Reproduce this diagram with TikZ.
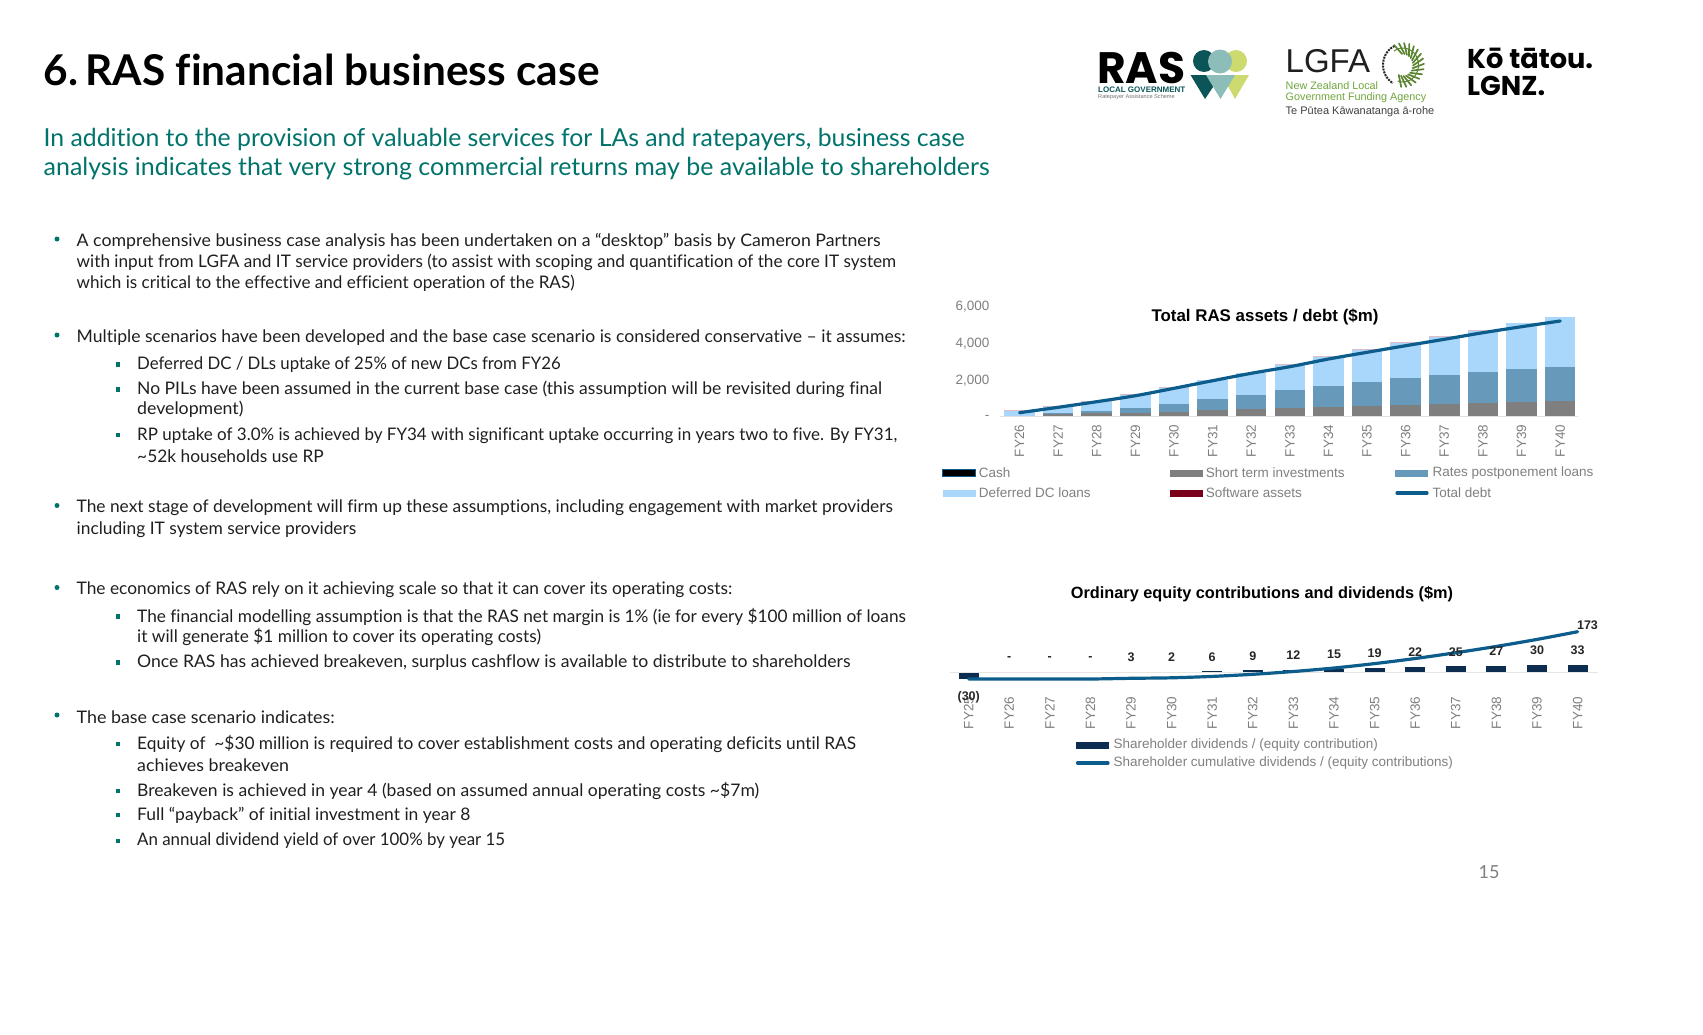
\documentclass[tikz,border=0pt]{standalone}
\usepackage{fontspec}
\usepackage{graphicx}
\setmainfont{Lato}[Ligatures=NoCommon]
\newfontfamily\chartfont{Liberation Sans}
\newfontfamily\logofont{Poppins}
\usepackage{tikz}

\definecolor{tealhead}{HTML}{00736B}
\definecolor{chartgrey}{HTML}{7F7F7F}
\definecolor{dcblue}{HTML}{A9D6FB}
\definecolor{ratesblue}{HTML}{6699BA}
\definecolor{debtblue}{HTML}{0C5C8C}
\definecolor{equitynavy}{HTML}{0C2C50}
\definecolor{softred}{HTML}{7A0019}
\definecolor{rasdark}{HTML}{0B5458}
\definecolor{rasmid}{HTML}{8DBDB8}
\definecolor{raslight}{HTML}{CDDA6F}
\definecolor{lgfagreen}{HTML}{6FA43A}

% one line of text brought to the width it has on the slide
\newcommand{\fitline}[2]{\resizebox{#1pt}{\height}{#2}}

\tikzset{
	bodyline/.style={anchor=west, inner sep=0pt, font=\fontsize{17.3}{19}\selectfont, text=black!88},
	subline/.style={anchor=west, inner sep=0pt, text=tealhead, font=\fontsize{24.8}{28}\selectfont},
	dot/.style={circle, fill=tealhead, inner sep=0pt, minimum size=5pt},
	square/.style={rectangle, fill=tealhead, inner sep=0pt, minimum size=4.5pt},
	axislabel/.style={inner sep=0pt, text=chartgrey, font=\chartfont\fontsize{13.5}{15}\selectfont},
	fylabel/.style={axislabel, rotate=90},
	legendtext/.style={axislabel, anchor=west},
	charttitle/.style={inner sep=0pt, text=black, font=\chartfont\bfseries\fontsize{16.3}{18}\selectfont},
	valuelabel/.style={inner sep=0pt, text=black!85, font=\chartfont\bfseries\fontsize{12.5}{14}\selectfont},
	swatch/.style={minimum width=33pt, minimum height=7pt, inner sep=0pt},
	debtline/.style={draw=debtblue, line width=3.2pt, line cap=round}
}

\begin{document}
\begin{tikzpicture}[x=1pt, y=-1pt]
	\useasboundingbox (0,0) rectangle (1703,1034);

	% headings
	\node[anchor=west, inner sep=0pt, font=\bfseries\fontsize{42.4}{44}\selectfont] (title) at (43.5,69.5){6.\kern-6.5pt{} RAS financial business case};
	\node[subline] (sub1) at (43.5,139.5){\fitline{921}{In addition to the provision of valuable services for LAs and ratepayers, business case}};
	\node[subline] (sub2) at (43.5,169){\fitline{946}{analysis indicates that very strong commercial returns may be available to shareholders}};

	% body text
	\node[bodyline] (l1) at (76.5,241.5){\fitline{804}{A comprehensive business case analysis has been undertaken on a “desktop” basis by Cameron Partners}};
	\node[bodyline] (l2) at (76.5,262){\fitline{819.4}{with input from LGFA and IT service providers (to assist with scoping and quantification of the core IT system}};
	\node[bodyline] (l3) at (76.5,283){\fitline{498}{which is critical to the effective and efficient operation of the RAS)}};
	\node[bodyline] (l4) at (76.5,337.5){\fitline{829}{Multiple scenarios have been developed and the base case scenario is considered conservative – it assumes:}};
	\node[bodyline] (l5) at (137,364.5){\fitline{423.4}{Deferred DC / DLs uptake of 25\% of new DCs from FY26}};
	\node[bodyline] (l6) at (137,389.5){\fitline{744.8}{No PILs have been assumed in the current base case (this assumption will be revisited during final}};
	\node[bodyline] (l7) at (137,409.5){\fitline{106.3}{development)}};
	\node[bodyline] (l8) at (137,435.5){\fitline{760}{RP uptake of 3.0\% is achieved by FY34 with significant uptake occurring in years two to five. By FY31,}};
	\node[bodyline] (l9) at (137,456){\fitline{186.6}{\textasciitilde52k households use RP}};
	\node[bodyline] (l10) at (76.5,508){\fitline{816.2}{The next stage of development will firm up these assumptions, including engagement with market providers}};
	\node[bodyline] (l11) at (76.5,529.5){\fitline{279.7}{including IT system service providers}};
	\node[bodyline] (l12) at (76.5,589.5){\fitline{655.5}{The economics of RAS rely on it achieving scale so that it can cover its operating costs:}};
	\node[bodyline] (l13) at (137,616.5){\fitline{768.7}{The financial modelling assumption is that the RAS net margin is 1\% (ie for every \$100 million of loans}};
	\node[bodyline] (l14) at (137,636.5){\fitline{403.8}{it will generate \$1 million to cover its operating costs)}};
	\node[bodyline] (l15) at (137,662.5){\fitline{713.3}{Once RAS has achieved breakeven, surplus cashflow is available to distribute to shareholders}};
	\node[bodyline] (l16) at (76.5,717){\fitline{258}{The base case scenario indicates:}};
	\node[bodyline] (l17) at (137,744){\fitline{718.8}{Equity of\ \ \textasciitilde\$30 million is required to cover establishment costs and operating deficits until RAS}};
	\node[bodyline] (l18) at (137,765.5){\fitline{151.9}{achieves breakeven}};
	\node[bodyline] (l19) at (137,791){\fitline{622}{Breakeven is achieved in year 4 (based on assumed annual operating costs \textasciitilde\$7m)}};
	\node[bodyline] (l20) at (137,815){\fitline{333.2}{Full “payback” of initial investment in year 8}};
	\node[bodyline] (l21) at (137,841){\fitline{368}{An annual dividend yield of over 100\% by year 15}};
	\node[inner sep=0pt, text=chartgrey, font=\fontsize{18}{20}\selectfont] (page) at (1489,872){15};

	% bullets
	\foreach \y/\n in {239/a,335/b,505.5/c,587.5/d,715/e}
		\node[dot] (dot\n) at (57,\y){};
	\foreach \y/\n in {364.5/a,389.5/b,435/c,616.5/d,662.5/e,744/f,791/g,815/h,841/i}
		\node[square] (sq\n) at (118,\y){};

	% first chart: bars
	\foreach \i/\g/\r/\d in {0/0/0/5,1/2/2.7/9.3,2/2.7/4.7/14.3,3/3.3/8/21,4/4.3/12/28.3,5/5.7/16.7/35.7,6/6.7/21/42.7,7/8/25.7/51,8/9/30.3/59.3,9/10/34/66.3,10/11/38/73.3,11/11.7/41/79.3,12/12.7/43.7/85.3,13/13.7/47/92.7,14/14.7/49.3/98.7}{
		\fill[softred!25] (1004.2+38.62*\i,416-\d) rectangle (1034.7+38.62*\i,416-\d-0.8);
		\fill[dcblue] (1004.2+38.62*\i,416) rectangle (1034.7+38.62*\i,416-\d);
		\fill[ratesblue] (1004.2+38.62*\i,416) rectangle (1034.7+38.62*\i,416-\r);
		\fill[chartgrey] (1004.2+38.62*\i,416) rectangle (1034.7+38.62*\i,416-\g);
	}
	\draw[black!12, line width=0.8pt] (1000,416.5) -- (1578,416.5);
	\draw[debtline] plot[smooth] coordinates {(1019.5,412.7) (1058.1,407.3) (1096.7,401.7) (1135.4,395.7) (1174,388.3) (1212.6,380.7) (1251.2,373.3) (1289.8,366.7) (1328.5,359) (1367.1,352.3) (1405.7,345.7) (1444.3,339.3) (1482.9,332.7) (1521.6,326.7) (1560.2,321)};

	% first chart: labels
	\node[charttitle, font=\chartfont\bfseries\fontsize{16.9}{18}\selectfont] (assetstitle) at (1265,316.5){Total RAS assets / debt (\$m)};
	\node[axislabel, anchor=east] (tick6) at (989.5,307){6,000};
	\node[axislabel, anchor=east] (tick4) at (989.5,344){4,000};
	\node[axislabel, anchor=east] (tick2) at (989.5,381){2,000};
	\node[axislabel, anchor=east] (tick0) at (989.5,417){-};
	\foreach \i/\t in {0/FY26,1/FY27,2/FY28,3/FY29,4/FY30,5/FY31,6/FY32,7/FY33,8/FY34,9/FY35,10/FY36,11/FY37,12/FY38,13/FY39,14/FY40}
		\node[fylabel] (a\t) at (1019.5+38.62*\i,441){\t};

	% first chart: legend
	\node[swatch, fill=black, draw=debtblue] (cashkey) at (959,473){};
	\node[legendtext] (cash) at (978.7,473){Cash};
	\node[swatch, fill=dcblue] (dckey) at (959,493){};
	\node[legendtext] (dc) at (978.7,493){Deferred DC loans};
	\node[swatch, fill=chartgrey] (stikey) at (1186,473){};
	\node[legendtext] (sti) at (1205.6,473){Short term investments};
	\node[swatch, fill=softred] (softkey) at (1186,493){};
	\node[legendtext] (soft) at (1205.6,493){Software assets};
	\node[swatch, fill=ratesblue] (rateskey) at (1411.7,473){};
	\node[legendtext] (rates) at (1432.5,473){Rates postponement loans};
	\coordinate (debtl) at (1397,493);
	\coordinate (debtr) at (1427,493);
	\draw[debtline] (debtl) -- (debtr);
	\node[legendtext] (debt) at (1432.5,493){Total debt};

	% second chart: bars
	\foreach \i/\v in {1/0,2/0,3/0,4/3,5/2,6/6,7/9,8/12,9/15,10/19,11/22,12/25,13/27,14/30,15/33}
		\fill[equitynavy] (958.6+40.6*\i,672.3) rectangle (978.6+40.6*\i,672.3-.233*\v);
	\fill[equitynavy] (958.6,672.3) rectangle (978.6,679);
	\draw[black!10, line width=0.8pt] (950,672.8) -- (1598,672.8);
	\draw[debtline] plot[smooth] coordinates {(968.6,679) (1009.2,679) (1049.8,679) (1090.4,679) (1131,678.3) (1171.6,677.8) (1212.2,676.4) (1252.8,674.3) (1293.4,671.5) (1334,668) (1374.6,663.6) (1415.2,658.5) (1455.8,652.7) (1496.4,646.4) (1537,639.4) (1577.6,631.7)};

	% second chart: labels
	\node[charttitle] (equitytitle) at (1262,594){Ordinary equity contributions and dividends (\$m)};
	\foreach \i/\t in {0/FY25,1/FY26,2/FY27,3/FY28,4/FY29,5/FY30,6/FY31,7/FY32,8/FY33,9/FY34,10/FY35,11/FY36,12/FY37,13/FY38,14/FY39,15/FY40}
		\node[fylabel] (e\t) at (968.6+40.6*\i,713){\t};
	\foreach \i/\t/\y in {1/-/658.5,2/-/658.5,3/-/658.5,4/3/657.3,5/2/657.3,6/6/656.7,7/9/655.7,8/12/654.7,9/15/654,10/19/653,11/22/652.3,12/25/651.7,13/27/651.3,14/30/650.3,15/33/649.7}
		\node[valuelabel] (v\i) at (968.6+40.6*\i,\y){\t};
	\node[valuelabel] (vneg) at (968.7,697){(30)};
	\node[valuelabel] (vtop) at (1587.5,624.7){173};

	% second chart: legend
	\node[swatch, fill=equitynavy] (divkey) at (1092.5,745){};
	\node[legendtext] (div) at (1113.5,745){Shareholder dividends / (equity contribution)};
	\coordinate (cuml) at (1077.5,763);
	\coordinate (cumr) at (1108,763);
	\draw[debtline] (cuml) -- (cumr);
	\node[legendtext] (cum) at (1113.5,763){Shareholder cumulative dividends / (equity contributions)};

	% RAS logo
	\fill[raslight] (1236,61) circle (11);
	\fill[rasdark] (1204,61) circle (11);
	\fill[raslight] (1222,75) -- (1249,75) -- (1235,99) -- cycle;
	\fill[rasdark] (1190.5,75) -- (1221,75) -- (1205,99) -- cycle;
	\fill[rasmid] (1206,75) -- (1235,75) -- (1220.5,99) -- cycle;
	\fill[rasmid] (1220,61.5) circle (12);
	\node[anchor=west, inner sep=0pt, text height=30pt, text depth=0pt, font=\logofont\bfseries\fontsize{44}{46}\selectfont] (raslogo) at (1097,68){RAS};
	\node[anchor=west, inner sep=0pt, text=rasdark, font=\chartfont\bfseries\fontsize{8}{9}\selectfont] (rasgov) at (1098,89.5){LOCAL GOVERNMENT};
	\node[anchor=west, inner sep=0pt, text=black!55, font=\chartfont\fontsize{5.6}{7}\selectfont] (rasrate) at (1098,97.5){Ratepayer Assistance Scheme};

	% LGFA logo
	\node[anchor=west, inner sep=0pt, text=black!88, font=\chartfont\fontsize{33}{35}\selectfont] (lgfa) at (1285.5,61){LGFA};
	\node[anchor=west, inner sep=0pt, text=lgfagreen, font=\chartfont\fontsize{10.8}{12}\selectfont] (lgfa1) at (1285.5,85.5){New Zealand Local};
	\node[anchor=west, inner sep=0pt, text=lgfagreen, font=\chartfont\fontsize{10.8}{12}\selectfont] (lgfa2) at (1285.5,97.5){Government Funding Agency};
	\node[anchor=west, inner sep=0pt, text=black!75, font=\chartfont\fontsize{11}{12}\selectfont] (lgfa3) at (1285.5,112){Te Pūtea Kāwanatanga ā-rohe};
	\draw[black!85, line width=2pt, dash pattern=on 2pt off 1pt] plot[domain=115:240, samples=30] ({1403+20*cos(\x)},{65-21*sin(\x)});
	\draw[lgfagreen!80!black, line width=1pt] plot[domain=125:-110, samples=40] ({1403+15.5*cos(\x)},{65-17*sin(\x)});
	\foreach \a in {-105,-91,...,105}
		\draw[lgfagreen!80!black, line width=1.7pt, line cap=round] ({1403+21*cos(\a+10)},{65-22*sin(\a+10)}) -- ({1403+10*cos(\a-10)},{65-11*sin(\a-10)});

	% LGNZ logo
	\node[anchor=west, inner sep=0pt, text height=21pt, text depth=0pt, font=\logofont\bfseries\fontsize{27.2}{29}\selectfont] (koe) at (1467,58){Kō tātou.};
	\node[anchor=west, inner sep=0pt, text height=21pt, text depth=0pt, font=\logofont\bfseries\fontsize{27.2}{29}\selectfont] (lgnz) at (1467,84.5){LGNZ.};
\end{tikzpicture}
\end{document}
